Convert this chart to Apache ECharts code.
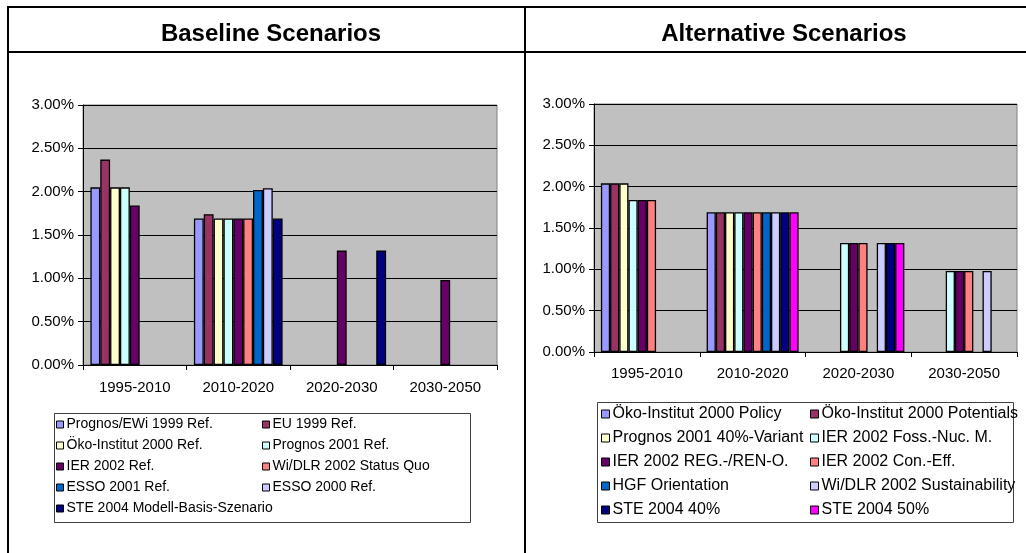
<!DOCTYPE html>
<html>
<head>
<meta charset="utf-8">
<script src="https://cdn.jsdelivr.net/npm/echarts@6/dist/echarts.min.js"></script>
<style>
html,body{margin:0;padding:0;background:#fff;}
#c{width:1026px;height:553px;}
</style>
</head>
<body>
<div id="c"></div>
<script>
// ---- data ----
const categories = ['1995-2010', '2010-2020', '2020-2030', '2030-2050'];
const yTicks = [0, 0.5, 1, 1.5, 2, 2.5, 3]; // percent

// Baseline scenarios (percent)
const baselineNames = [
  'Prognos/EWi 1999 Ref.', 'EU 1999 Ref.', 'Öko-Institut 2000 Ref.', 'Prognos 2001 Ref.',
  'IER 2002 Ref.', 'Wi/DLR 2002 Status Quo', 'ESSO 2001 Ref.', 'ESSO 2000 Ref.',
  'STE 2004 Modell-Basis-Szenario'
];
const prognosEwi1999Ref = [2.05, 1.69, null, null];
const eu1999Ref         = [2.37, 1.74, null, null];
const oeko2000Ref       = [2.05, 1.69, null, null];
const prognos2001Ref    = [2.05, 1.69, null, null];
const ier2002Ref        = [1.84, 1.69, 1.32, 0.98];
const wiDlr2002SQ       = [null, 1.69, null, null];
const esso2001Ref       = [null, 2.02, null, null];
const esso2000Ref       = [null, 2.04, null, null];
const ste2004Basis      = [null, 1.69, 1.32, null];
const baselineValues = [prognosEwi1999Ref, eu1999Ref, oeko2000Ref, prognos2001Ref,
  ier2002Ref, wiDlr2002SQ, esso2001Ref, esso2000Ref, ste2004Basis];

// Alternative scenarios (percent)
const altNames = [
  'Öko-Institut 2000 Policy', 'Öko-Institut 2000 Potentials', 'Prognos 2001 40%-Variant',
  'IER 2002 Foss.-Nuc. M.', 'IER 2002 REG.-/REN-O.', 'IER 2002 Con.-Eff.',
  'HGF Orientation', 'Wi/DLR 2002 Sustainability', 'STE 2004 40%', 'STE 2004 50%'
];
const oekoPolicy     = [2.04, 1.69, null, null];
const oekoPotentials = [2.04, 1.69, null, null];
const prognos40      = [2.04, 1.69, null, null];
const ierFossNuc     = [1.84, 1.69, 1.32, 0.98];
const ierRegRen      = [1.84, 1.69, 1.32, 0.98];
const ierConEff      = [1.84, 1.69, 1.32, 0.98];
const hgfOrientation = [null, 1.69, null, null];
const wiDlrSust      = [null, 1.69, 1.32, 0.98];
const ste40          = [null, 1.69, 1.32, null];
const ste50          = [null, 1.69, 1.32, null];
const altValues = [oekoPolicy, oekoPotentials, prognos40, ierFossNuc, ierRegRen,
  ierConEff, hgfOrientation, wiDlrSust, ste40, ste50];

const palette = ['#9999FF', '#993366', '#FFFFCC', '#CCFFFF', '#660066',
  '#FF8080', '#0066CC', '#CCCCFF', '#000080', '#FF00FF'];

// ---- chart ----
const FONT = 'Liberation Sans, Arial, sans-serif';
const chart = echarts.init(document.getElementById('c'), null, {renderer: 'canvas'});

function xAxis(gridIndex, margin) {
  return {
    type: 'category', gridIndex, data: categories,
    axisLine: {show: true, lineStyle: {color: '#000', width: 1}},
    axisTick: {show: true, length: 5, lineStyle: {color: '#000'}},
    axisLabel: {color: '#000', fontFamily: FONT, fontSize: 15, margin, interval: 0},
    splitLine: {show: false}
  };
}
function yAxis(gridIndex) {
  return {
    type: 'value', gridIndex, min: yTicks[0], max: yTicks[yTicks.length - 1],
    interval: yTicks[1] - yTicks[0],
    axisLine: {show: true, lineStyle: {color: '#000', width: 1}},
    axisTick: {show: true, length: 5, lineStyle: {color: '#000'}},
    axisLabel: {color: '#000', fontFamily: FONT, fontSize: 15, margin: 9,
      formatter: v => v.toFixed(2) + '%'},
    splitLine: {show: true, lineStyle: {color: '#000', width: 1}}
  };
}

const series = [];
baselineNames.forEach((n, i) => series.push({
  name: n, type: 'bar', xAxisIndex: 0, yAxisIndex: 0, data: baselineValues[i],
  barGap: '0%', barCategoryGap: (1.5 / 10.5 * 100) + '%',
  itemStyle: {color: palette[i], borderColor: '#000', borderWidth: 1.3},
  emphasis: {disabled: true}, animation: false
}));
altNames.forEach((n, i) => series.push({
  name: n, type: 'bar', xAxisIndex: 1, yAxisIndex: 1, data: altValues[i],
  barGap: '0%', barCategoryGap: (1.5 / 11.5 * 100) + '%',
  itemStyle: {color: palette[i], borderColor: '#000', borderWidth: 1.3},
  emphasis: {disabled: true}, animation: false
}));

function legend(names, left, top, fontSize, rowH, icon) {
  return {
    data: names, orient: 'vertical', left, top, itemGap: 0,
    itemWidth: icon, itemHeight: icon, icon: 'rect', padding: 0,
    selectedMode: false,
    itemStyle: {borderColor: '#000', borderWidth: 1},
    textStyle: {color: '#000', fontFamily: FONT, fontSize, lineHeight: rowH, padding: [0, 0, 0, -2]}
  };
}

const option = {
  animation: false,
  grid: [
    {left: 83, top: 105, width: 414, height: 260, show: true,
     backgroundColor: '#C0C0C0', borderColor: '#808080', borderWidth: 1},
    {left: 594, top: 104, width: 423, height: 248, show: true,
     backgroundColor: '#C0C0C0', borderColor: '#808080', borderWidth: 1}
  ],
  xAxis: [xAxis(0, 15), xAxis(1, 14)],
  yAxis: [yAxis(0), yAxis(1)],
  legend: [
    legend(baselineNames.filter((_, i) => i % 2 === 0), 56, 414, 14, 21, 7),
    legend(baselineNames.filter((_, i) => i % 2 === 1), 262, 414, 14, 21, 7),
    legend(altNames.filter((_, i) => i % 2 === 0), 601, 402, 16, 24, 8),
    legend(altNames.filter((_, i) => i % 2 === 1), 810, 402, 16, 24, 8)
  ],
  title: [
    {text: 'Baseline Scenarios', left: 266, top: 17, textAlign: 'center',
     textStyle: {fontFamily: FONT, fontSize: 24, fontWeight: 'bold', color: '#000'}},
    {text: 'Alternative Scenarios', left: 779, top: 17, textAlign: 'center',
     textStyle: {fontFamily: FONT, fontSize: 24, fontWeight: 'bold', color: '#000'}}
  ],
  graphic: [
    {type: 'line', shape: {x1: 7, y1: 7, x2: 1026, y2: 7}, style: {stroke: '#000', lineWidth: 2}, silent: true},
    {type: 'line', shape: {x1: 7, y1: 52, x2: 1026, y2: 52}, style: {stroke: '#000', lineWidth: 2}, silent: true},
    {type: 'line', shape: {x1: 8, y1: 6, x2: 8, y2: 553}, style: {stroke: '#000', lineWidth: 2}, silent: true},
    {type: 'line', shape: {x1: 525, y1: 6, x2: 525, y2: 553}, style: {stroke: '#000', lineWidth: 2}, silent: true},
    {type: 'rect', shape: {x: 54.5, y: 413.5, width: 416, height: 109}, style: {fill: 'none', stroke: '#404040', lineWidth: 1}, silent: true},
    {type: 'rect', shape: {x: 597.5, y: 402.5, width: 416, height: 120}, style: {fill: 'none', stroke: '#404040', lineWidth: 1}, silent: true, z: 0}
  ],
  series
};
chart.setOption(option);
</script>
</body>
</html>
